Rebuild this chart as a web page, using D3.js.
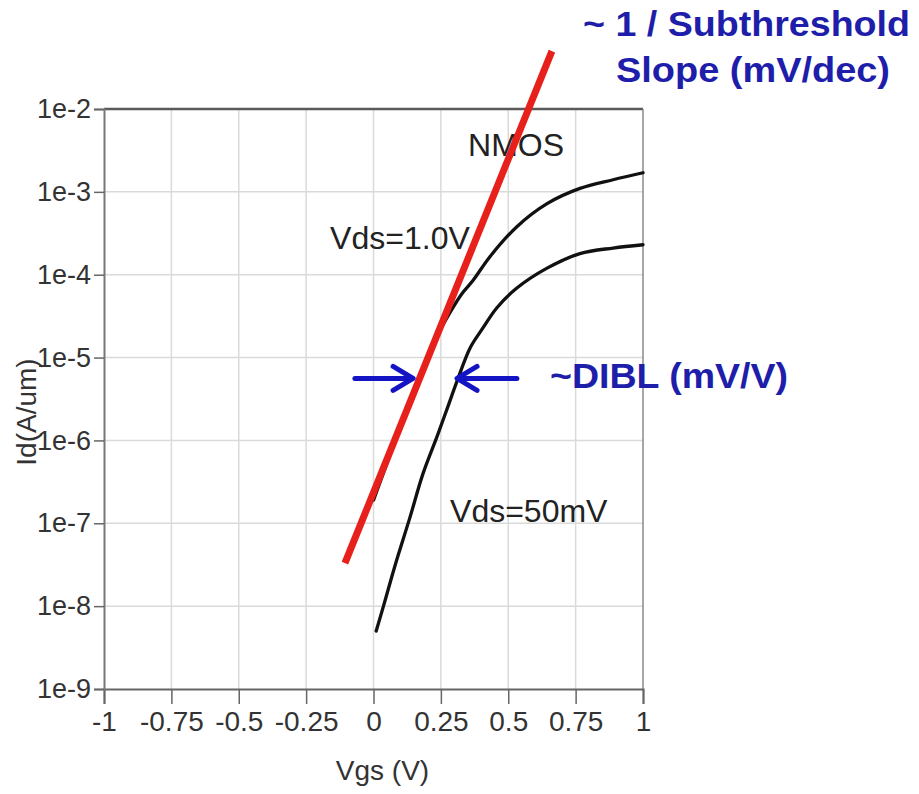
<!DOCTYPE html>
<html>
<head>
<meta charset="utf-8">
<script src="https://cdn.jsdelivr.net/npm/d3@7"></script>
<style>
  html, body { margin: 0; padding: 0; background: #fff; }
  svg { display: block; font-family: "Liberation Sans", Arial, sans-serif; }
</style>
</head>
<body>
<svg id="chart" width="919" height="794"></svg>
<script>
// Gate voltage ticks and drain-current decades
const xTicks = [-1, -0.75, -0.5, -0.25, 0, 0.25, 0.5, 0.75, 1];
const xTickLabels = ["-1", "-0.75", "-0.5", "-0.25", "0", "0.25", "0.5", "0.75", "1"];
const yTicks = [1e-9, 1e-8, 1e-7, 1e-6, 1e-5, 1e-4, 1e-3, 1e-2];
const yTickLabels = ["1e-9", "1e-8", "1e-7", "1e-6", "1e-5", "1e-4", "1e-3", "1e-2"];

// Id-Vgs, Vds = 1.0 V
const vgsHigh = [0.0, 0.061, 0.117, 0.173, 0.228, 0.284, 0.328, 0.369, 0.432, 0.532, 0.644, 0.766, 0.889, 1.0];
const idHigh  = [1.9e-7, 6.6e-7, 2.0e-6, 5.6e-6, 1.6e-5, 3.5e-5, 5.9e-5, 8.5e-5, 1.65e-4, 3.8e-4, 7.2e-4, 1.1e-3, 1.4e-3, 1.7e-3];

// Id-Vgs, Vds = 50 mV
const vgsLow = [0.01, 0.043, 0.08, 0.135, 0.184, 0.236, 0.273, 0.31, 0.358, 0.403, 0.458, 0.532, 0.644, 0.766, 0.889, 1.0];
const idLow  = [5.0e-9, 1.17e-8, 3.1e-8, 1.17e-7, 4.0e-7, 1.12e-6, 2.4e-6, 5.2e-6, 1.3e-5, 2.2e-5, 4.0e-5, 6.9e-5, 1.2e-4, 1.8e-4, 2.1e-4, 2.3e-4];

// Subthreshold slope fit line (end points)
const vgsFit = [-0.106, 0.662];
const idFit  = [3.3e-8, 5.0e-2];

// DIBL shift arrows: [tail Vgs, tip Vgs] at a common current level
const diblLevel = 5.6e-6;
const diblArrows = [[-0.069, 0.147], [0.532, 0.31]];

const svg = d3.select("#chart");
const x = d3.scaleLinear().domain([-1, 1]).range([104, 643]);
const y = d3.scaleLog().domain([1e-9, 1e-2]).range([689, 109]);

// grid
const grid = svg.append("g");
grid.selectAll("line.v").data(xTicks.slice(1, -1)).join("line")
  .attr("x1", d => x(d)).attr("x2", d => x(d))
  .attr("y1", y(1e-2)).attr("y2", y(1e-9))
  .attr("stroke", "#dadada").attr("stroke-width", 1.5);
grid.selectAll("line.h").data(yTicks.slice(1, -1)).join("line")
  .attr("y1", d => y(d)).attr("y2", d => y(d))
  .attr("x1", x(-1)).attr("x2", x(1))
  .attr("stroke", "#dadada").attr("stroke-width", 1.5);

// frame
svg.append("line").attr("x1", x(-1)).attr("x2", x(1)).attr("y1", y(1e-2)).attr("y2", y(1e-2))
  .attr("stroke", "#5a5a5a").attr("stroke-width", 2.5);
svg.append("line").attr("x1", x(1)).attr("x2", x(1)).attr("y1", y(1e-2)).attr("y2", y(1e-9))
  .attr("stroke", "#8a8a8a").attr("stroke-width", 1.5);

// axes
const xAxis = d3.axisBottom(x).tickValues(xTicks)
  .tickFormat((d, i) => xTickLabels[i]).tickSize(15).tickPadding(7);
const gx = svg.append("g").attr("transform", `translate(0,${y(1e-9)})`).call(xAxis);
gx.select(".domain").attr("stroke", "#666").attr("stroke-width", 2);
gx.selectAll(".tick line").attr("stroke", "#666").attr("stroke-width", 1.5);
gx.selectAll(".tick text").attr("font-size", 28).attr("fill", "#333")
  .attr("font-family", "Liberation Sans, Arial, sans-serif");

const yAxis = d3.axisLeft(y).tickValues(yTicks)
  .tickFormat((d, i) => yTickLabels[i]).tickSize(10).tickPadding(3);
const gy = svg.append("g").attr("transform", `translate(${x(-1)},0)`).call(yAxis);
gy.select(".domain").attr("stroke", "#777").attr("stroke-width", 2);
gy.selectAll(".tick line").attr("stroke", "#666").attr("stroke-width", 1.5);
gy.selectAll(".tick text").attr("font-size", 27).attr("fill", "#333")
  .attr("font-family", "Liberation Sans, Arial, sans-serif");

// axis titles
svg.append("text").attr("x", x(0) + 9).attr("y", 780).attr("text-anchor", "middle")
  .attr("font-size", 28).attr("fill", "#333").text("Vgs (V)");
svg.append("text").attr("transform", "translate(36,412) rotate(-90)").attr("text-anchor", "middle")
  .attr("font-size", 28).attr("fill", "#333").text("Id(A/um)");

// curves
const line = d3.line().x(d => x(d[0])).y(d => y(d[1])).curve(d3.curveCatmullRom.alpha(0.5));
svg.append("path").datum(d3.zip(vgsHigh, idHigh)).attr("d", line)
  .attr("fill", "none").attr("stroke", "#111").attr("stroke-width", 3.3)
  .attr("stroke-linecap", "round").attr("stroke-linejoin", "round");
svg.append("path").datum(d3.zip(vgsLow, idLow)).attr("d", line)
  .attr("fill", "none").attr("stroke", "#111").attr("stroke-width", 3.3)
  .attr("stroke-linecap", "round").attr("stroke-linejoin", "round");

// curve labels
svg.append("text").attr("x", x(0.351)).attr("y", y(10 ** -2.566))
  .attr("font-size", 32).attr("fill", "#222").text("NMOS");
svg.append("text").attr("x", x(-0.161)).attr("y", y(10 ** -3.687))
  .attr("font-size", 32).attr("fill", "#222").text("Vds=1.0V");
svg.append("text").attr("x", x(0.284)).attr("y", y(10 ** -6.988))
  .attr("font-size", 32).attr("fill", "#222").text("Vds=50mV");

// subthreshold slope fit
svg.append("line")
  .attr("x1", x(vgsFit[0])).attr("y1", y(idFit[0]))
  .attr("x2", x(vgsFit[1])).attr("y2", y(idFit[1]))
  .attr("stroke", "#e8201c").attr("stroke-width", 7);

// DIBL arrows
const blue = "#1414c4";
diblArrows.forEach(([tail, tip]) => {
  const x0 = x(tail), x1 = x(tip), yy = y(diblLevel);
  const dir = Math.sign(x1 - x0);
  const g = svg.append("g").attr("stroke", blue).attr("stroke-width", 5)
    .attr("stroke-linecap", "round").attr("fill", "none");
  g.append("line").attr("x1", x0).attr("y1", yy).attr("x2", x1 - dir * 2).attr("y2", yy);
  g.append("path").attr("d", `M${x1 - dir * 20},${yy - 12} L${x1},${yy} L${x1 - dir * 20},${yy + 12}`)
    .attr("stroke-linejoin", "round");
});

// annotation text
const navy = "#1e1eaa";
svg.append("text").attr("x", 550).attr("y", 388).attr("font-size", 35).attr("font-weight", "bold")
  .attr("fill", navy).attr("textLength", 238).attr("lengthAdjust", "spacingAndGlyphs").text("~DIBL (mV/V)");
svg.append("text").attr("x", 583).attr("y", 36).attr("font-size", 35).attr("font-weight", "bold")
  .attr("fill", navy).attr("textLength", 327).attr("lengthAdjust", "spacingAndGlyphs").text("~ 1 / Subthreshold");
svg.append("text").attr("x", 616).attr("y", 82).attr("font-size", 35).attr("font-weight", "bold")
  .attr("fill", navy).attr("textLength", 274).attr("lengthAdjust", "spacingAndGlyphs").text("Slope (mV/dec)");
</script>
</body>
</html>
